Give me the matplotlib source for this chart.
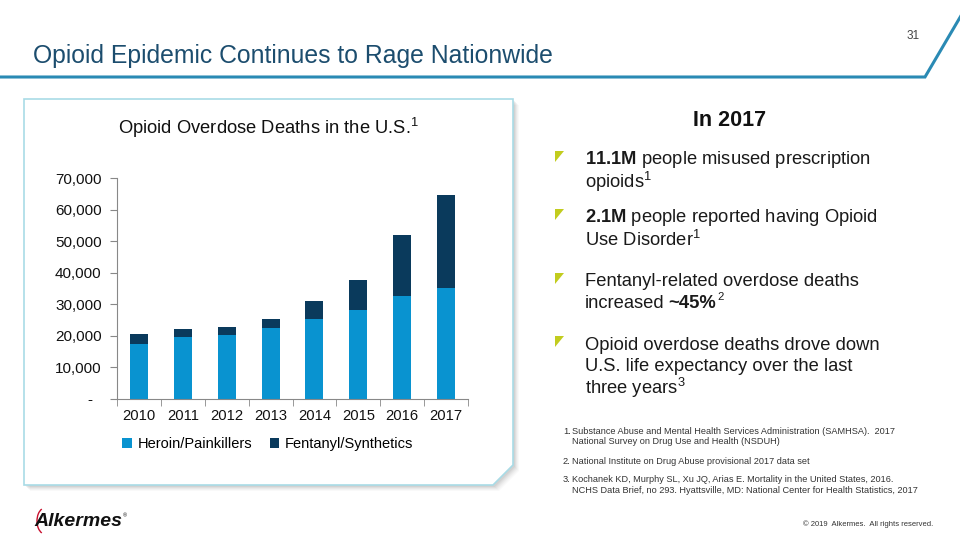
import matplotlib
matplotlib.use("Agg")
import matplotlib.pyplot as plt
import numpy as np
from matplotlib.patches import Polygon, Arc

plt.rcParams['font.family'] = ['Liberation Sans', 'DejaVu Sans']
plt.rcParams['mathtext.fontset'] = 'custom'
plt.rcParams['mathtext.rm'] = 'Liberation Sans'
plt.rcParams['mathtext.bf'] = 'Liberation Sans:bold'

# data
years = ['2010', '2011', '2012', '2013', '2014', '2015', '2016', '2017']
heroin = [17500, 19700, 20300, 22500, 25300, 28200, 32700, 35200]
fentanyl = [3100, 2500, 2500, 2800, 5700, 9500, 19200, 29400]
yticks = [0, 10000, 20000, 30000, 40000, 50000, 60000, 70000]

c_heroin = '#0993d0'
c_fent = '#0a3a5c'
teal = '#2a8ab4'

fig = plt.figure(figsize=(9.6, 5.4), dpi=100)
renderer = fig.canvas.get_renderer()

# overlay in pixel coordinates for the slide decoration
bg = fig.add_axes([0, 0, 1, 1])
bg.set_xlim(0, 960)
bg.set_ylim(540, 0)
bg.axis('off')

# header
bg.text(33, 56, 'Opioid Epidemic Continues to Rage Nationwide', fontsize=17.8,
        color='#1c4d6e', va='center', ha='left')
bg.text(913, 36, '31', fontsize=8.5, color='#444444', va='center', ha='center')
bg.plot([0, 925, 962], [77, 77, 14], color=teal, lw=2.2, solid_joinstyle='miter')

# chart panel with cut corner and soft shadow
panel = [(24, 99), (513, 99), (513, 465), (493, 485), (24, 485)]
for off, a in [(6, 0.04), (5, 0.05), (4, 0.07), (3, 0.09), (2, 0.11)]:
    bg.add_patch(Polygon([(x + off, y + off) for x, y in panel], closed=True,
                         facecolor='#777777', alpha=a, edgecolor='none', zorder=1))
bg.add_patch(Polygon(panel, closed=True, facecolor='white', edgecolor='#a9dbe6',
                     lw=1.2, zorder=2))

bg.text(268, 128, 'Opioid Overdose Deaths in the U.S.$^{1}$', fontsize=13.2,
        ha='center', va='center', color='#111111', zorder=3)

# right-hand text
bg.text(730, 120, 'In 2017', fontsize=15.5, fontweight='bold', ha='center',
        va='center', color='#111111')
fs = 13.2
bullets = [
    (160, [r'$\mathbf{11.1M}$ people misused prescription', 'opioids$^{1}$']),
    (218, [r'$\mathbf{2.1M}$ people reported having Opioid', 'Use Disorder$^{1}$']),
    (282, ['Fentanyl-related overdose deaths', None]),
    (345, ['Opioid overdose deaths drove down', 'U.S. life expectancy over the last',
           'three years$^{3}$']),
]
for y0, lines in bullets:
    bg.add_patch(Polygon([(555, y0 - 9), (564, y0 - 9), (555, y0 + 2)], closed=True,
                         facecolor='#c2cc1e', edgecolor='none'))
    for i, ln in enumerate(lines):
        if ln is None:
            continue
        bg.text(585, y0 + i * 21.5, ln, fontsize=fs, ha='left', va='center',
                color='#1a1a1a')

# "increased ~45%2" line built from runs
t = bg.text(585, 303.5, 'increased', fontsize=fs, ha='left', va='center', color='#1a1a1a')
w = t.get_window_extent(renderer).width
t2 = bg.text(585 + w + 4, 303.5, '~45%', fontsize=fs, fontweight='bold', ha='left',
             va='center', color='#1a1a1a')
w2 = t2.get_window_extent(renderer).width
bg.text(585 + w + 4 + w2 + 1.5, 297, '2', fontsize=fs * 0.62, ha='left', va='center',
        color='#1a1a1a')

notes = [
    (431, '1.', ['Substance Abuse and Mental Health Services Administration (SAMHSA).  2017',
                 'National Survey on Drug Use and Health (NSDUH)']),
    (461, '2.', ['National Institute on Drug Abuse provisional 2017 data set']),
    (480, '3.', ['Kochanek KD, Murphy SL, Xu JQ, Arias E. Mortality in the United States, 2016.',
                 'NCHS Data Brief, no 293. Hyattsville, MD: National Center for Health Statistics, 2017']),
]
for y0, num, lines in notes:
    bg.text(563, y0, num, fontsize=6.7, ha='left', va='center', color='#333333')
    for i, ln in enumerate(lines):
        bg.text(572, y0 + i * 10.5, ln, fontsize=6.6, ha='left', va='center',
                color='#333333')

# footer
bg.text(34, 521, 'Alkermes', fontsize=14, fontweight='bold', fontstyle='italic',
        ha='left', va='center', color='#111111')
bg.text(123, 516, '®', fontsize=4, ha='left', va='center', color='#111111')
bg.add_patch(Arc((45, 521), 16, 26, theta1=105, theta2=255, color='#c8102e', lw=1.0))
bg.text(933, 524, '© 2019  Alkermes.  All rights reserved.', fontsize=5.5,
        ha='right', va='center', color='#333333')

# bar chart
ax = fig.add_axes([117 / 960, (540 - 399) / 540, (468 - 117) / 960, (399 - 178) / 540])
ax.set_zorder(5)
ax.patch.set_visible(False)
x = np.arange(len(years))
ax.bar(x, heroin, width=0.41, color=c_heroin, label='Heroin/Painkillers')
ax.bar(x, fentanyl, width=0.41, bottom=heroin, color=c_fent, label='Fentanyl/Synthetics')
ax.set_xlim(-0.5, len(years) - 0.5)
ax.set_ylim(0, 70000)
ax.set_yticks(yticks)
ax.set_yticklabels(['-  ' if v == 0 else f'{v:,}' for v in yticks], fontsize=11,
                   color='#111111')
ax.set_xticks(x)
ax.set_xticklabels(years, fontsize=10.6, color='#111111')
ax.set_xticks(np.arange(-0.5, len(years)), minor=True)
ax.tick_params(axis='x', which='major', length=0, pad=7)
ax.tick_params(axis='x', which='minor', length=5, color='#888888', direction='out')
ax.tick_params(axis='y', length=5, color='#888888', direction='out', pad=6)
for s in ['top', 'right']:
    ax.spines[s].set_visible(False)
for s in ['left', 'bottom']:
    ax.spines[s].set_color('#888888')
    ax.spines[s].set_linewidth(0.8)

ax.legend(ncol=2, frameon=False, loc='center', bbox_to_anchor=(268 / 960, (540 - 444) / 540),
          bbox_transform=fig.transFigure, fontsize=10.5, handlelength=0.65,
          handleheight=0.65, handletextpad=0.4, columnspacing=1.2)

fig.savefig('out.png', dpi=100)
